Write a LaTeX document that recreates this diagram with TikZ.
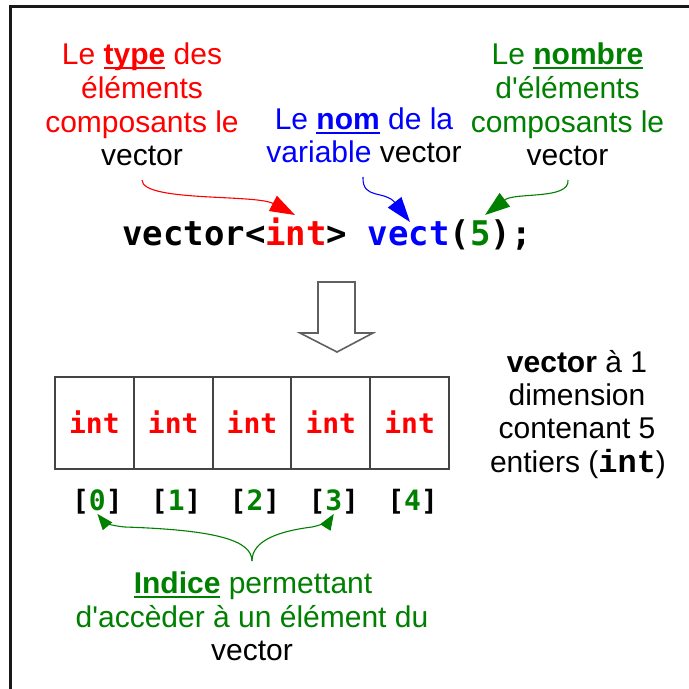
\documentclass[tikz,border=0pt]{standalone}
\usepackage{fontspec}
\setmainfont{Liberation Sans}
\newfontfamily\dejamono{DejaVu Sans Mono}
\newfontfamily\courmono{Liberation Mono}
\usetikzlibrary{arrows.meta}

\definecolor{tred}{RGB}{255,0,0}
\definecolor{tblue}{RGB}{0,0,255}
\definecolor{tgreen}{RGB}{0,128,0}
\definecolor{cellgray}{RGB}{68,68,68}
\definecolor{hollowgray}{RGB}{96,96,96}

% bold word with a thick underline in the current colour
\newcommand\ulword[1]{\setbox0\hbox{#1}\rlap{\rule[-5pt]{\wd0}{2pt}}\box0\relax}

\tikzset{
  txt/.style={anchor=base, inner sep=0pt, font=\fontsize{30}{33.5}\selectfont},
  code/.style={anchor=base west, inner sep=0pt, font=\dejamono\bfseries\fontsize{34}{40}\selectfont},
  cell/.style={draw=cellgray, line width=2pt, minimum width=78.8pt, minimum height=92pt,
    inner sep=0pt, text height=20pt, text depth=0pt, text=tred,
    font=\dejamono\bfseries\fontsize{28}{32}\selectfont},
  idx/.style={anchor=base, inner sep=0pt, font=\dejamono\bfseries\fontsize{28}{32}\selectfont},
  pointer/.style={line width=1.1pt, -{Triangle[length=25pt,width=17pt]}},
  idxpointer/.style={draw=tgreen, line width=1.1pt, -{Triangle[length=16pt,width=12pt]}},
}

\begin{document}
\begin{tikzpicture}[x=1pt,y=-1pt]
\fill[white] (0,0) rectangle (689,689);
\useasboundingbox (0,0) rectangle (689,689);
\clip (0,0) rectangle (689,689);

% frame
\draw[line width=3pt, black!90] (10,700) -- (10,6.5) -- (700,6.5);

% element type
\node[txt, text=tred] (r1) at (142,64) {Le \ulword{\textbf{type}} des};
\node[txt, text=tred] (r2) at (142,98) {éléments};
\node[txt, text=tred] (r3) at (142,132) {composants le};
\node[txt] (r4) at (142,165) {vector};

% variable name
\node[txt, text=tblue] (b1) at (364,129) {Le \ulword{\textbf{nom}} de la};
\node[txt] (b2) at (364,162) {\textcolor{tblue}{variable} vector};

% element count
\node[txt, text=tgreen] (g1) at (567.5,64) {Le \ulword{\textbf{nombre}}};
\node[txt, text=tgreen] (g2) at (567.5,98) {d\textquotesingle éléments};
\node[txt, text=tgreen] (g3) at (567.5,132) {composants le};
\node[txt] (g4) at (567.5,165) {vector};

% declaration
\node[code] (code) at (122,245) {vector<\textcolor{tred}{int}> \textcolor{tblue}{vect}(\textcolor{tgreen}{5});};

\coordinate (rs) at (142,180);
\coordinate (rt) at (295,215);
\coordinate (bs) at (363,177);
\coordinate (bt) at (410,222);
\coordinate (gs) at (568,180);
\coordinate (gt) at (485,215);
\draw[pointer, tred] (rs) .. controls (142,202) and (255,194) .. (rt);
\draw[pointer, tblue] (bs) .. controls (362,200) and (385,190) .. (bt);
\draw[pointer, tgreen] (gs) .. controls (570,200) and (515,192) .. (gt);

% hollow arrow
\draw[hollowgray, line width=1.6pt, fill=white, line join=miter]
  (318,282) -- (355,282) -- (355,333) -- (373,333) -- (337,352) -- (300,333) -- (318,333) -- cycle;

% cells and indices
\foreach \i in {0,...,4}
  \node[cell] (c\i) at ({55+78.8*\i+39.4},423) {int};
\foreach \i in {0,...,4}
  \node[idx] (i\i) at ({55+78.8*\i+42.4},510) {[\textcolor{tgreen}{\i}]};

% description
\node[txt] (v1) at (577,372) {\textbf{vector} à 1};
\node[txt] (v2) at (577,405) {dimension};
\node[txt] (v3) at (577,438) {contenant 5};
\node[txt] (v4) at (578,472) {entiers ({\courmono\bfseries\fontsize{32}{36}\selectfont int})};

% index explanation
\node[txt, text=tgreen] (n1) at (253,593) {\ulword{\textbf{Indice}} permettant};
\node[txt, text=tgreen] (n2) at (252,627) {d\textquotesingle accèder à un élément du};
\node[txt] (n3) at (252,660) {vector};

\coordinate (J) at (252,561);
\draw[idxpointer] (J) .. controls (252,540) and (215,530) .. (125,527)
  .. controls (112,526) and (104,522) .. (i0.south);
\draw[idxpointer] (J) .. controls (252,540) and (280,531) .. (312,527)
  .. controls (322,525) and (330,520) .. (i3.south);
\end{tikzpicture}
\end{document}
